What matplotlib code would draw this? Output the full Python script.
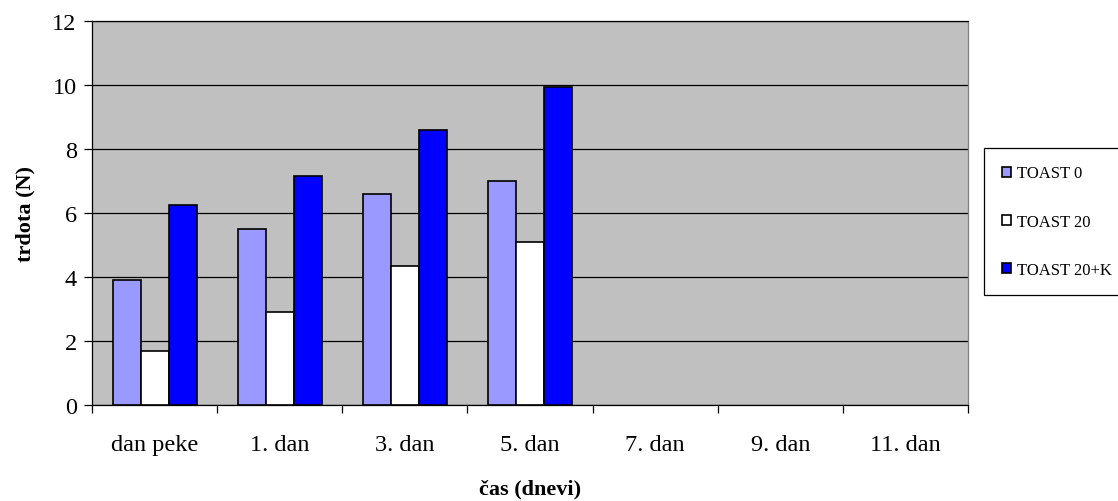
import numpy as np
import matplotlib.pyplot as plt
from matplotlib import ticker

plt.rcParams['font.family'] = ['Liberation Serif', 'DejaVu Serif']

# kategorije (dnevi) in meritve trdote
dnevi = ['dan peke', '1. dan', '3. dan', '5. dan', '7. dan', '9. dan', '11. dan']
toast0 = [3.9, 5.5, 6.6, 7.0]
toast20 = [1.7, 2.9, 4.35, 5.1]
toast20k = [6.25, 7.15, 8.6, 9.95]
serije = ['TOAST 0', 'TOAST 20', 'TOAST 20+K']
barve = ['#9999FF', '#FFFFFF', '#0000FF']

fig = plt.figure(figsize=(11.18, 5.02), dpi=100)
ax = fig.add_axes([92/1118, 1 - 406/502, 876/1118, 384/502])
ax.set_facecolor('#C0C0C0')

w = 0.224
x = np.arange(len(toast0))
for i, (vals, c, lab) in enumerate(zip([toast0, toast20, toast20k], barve, serije)):
    ax.bar(x + (i - 1) * w, vals, w, color=c, edgecolor='black', linewidth=1.2,
           label=lab, zorder=3)

ax.set_xlim(-0.5, len(dnevi) - 0.5)
ax.set_ylim(0, 12)
ax.yaxis.set_major_locator(ticker.MultipleLocator(2))
ax.grid(axis='y', color='black', linewidth=0.9, zorder=1)

ax.set_xticks(np.arange(len(dnevi)))
ax.set_xticklabels(dnevi)
ax.set_xticks(np.arange(len(dnevi) + 1) - 0.5, minor=True)
ax.tick_params(axis='x', which='major', length=0, labelsize=17.5, pad=21)
ax.tick_params(axis='x', which='minor', length=6, width=0.9, direction='out')
ax.tick_params(axis='y', length=6, width=0.9, labelsize=17.5, pad=5)

for s in ax.spines.values():
    s.set_color('black')
    s.set_linewidth(0.9)
ax.spines['right'].set_color('#808080')

ax.set_xlabel('čas (dnevi)', fontsize=16, fontweight='bold', labelpad=17)
ax.set_ylabel('trdota (N)', fontsize=16, fontweight='bold', labelpad=12)

leg = fig.legend(loc='upper left', bbox_to_anchor=(984/1118, 1 - 149/502),
                 fontsize=12, frameon=True, fancybox=False, framealpha=1,
                 edgecolor='black', handlelength=0.55, handleheight=0.55,
                 handletextpad=0.4, labelspacing=1.93, borderpad=1.05,
                 borderaxespad=0)
leg.get_frame().set_linewidth(0.9)

fig.savefig('out.png', dpi=100)
